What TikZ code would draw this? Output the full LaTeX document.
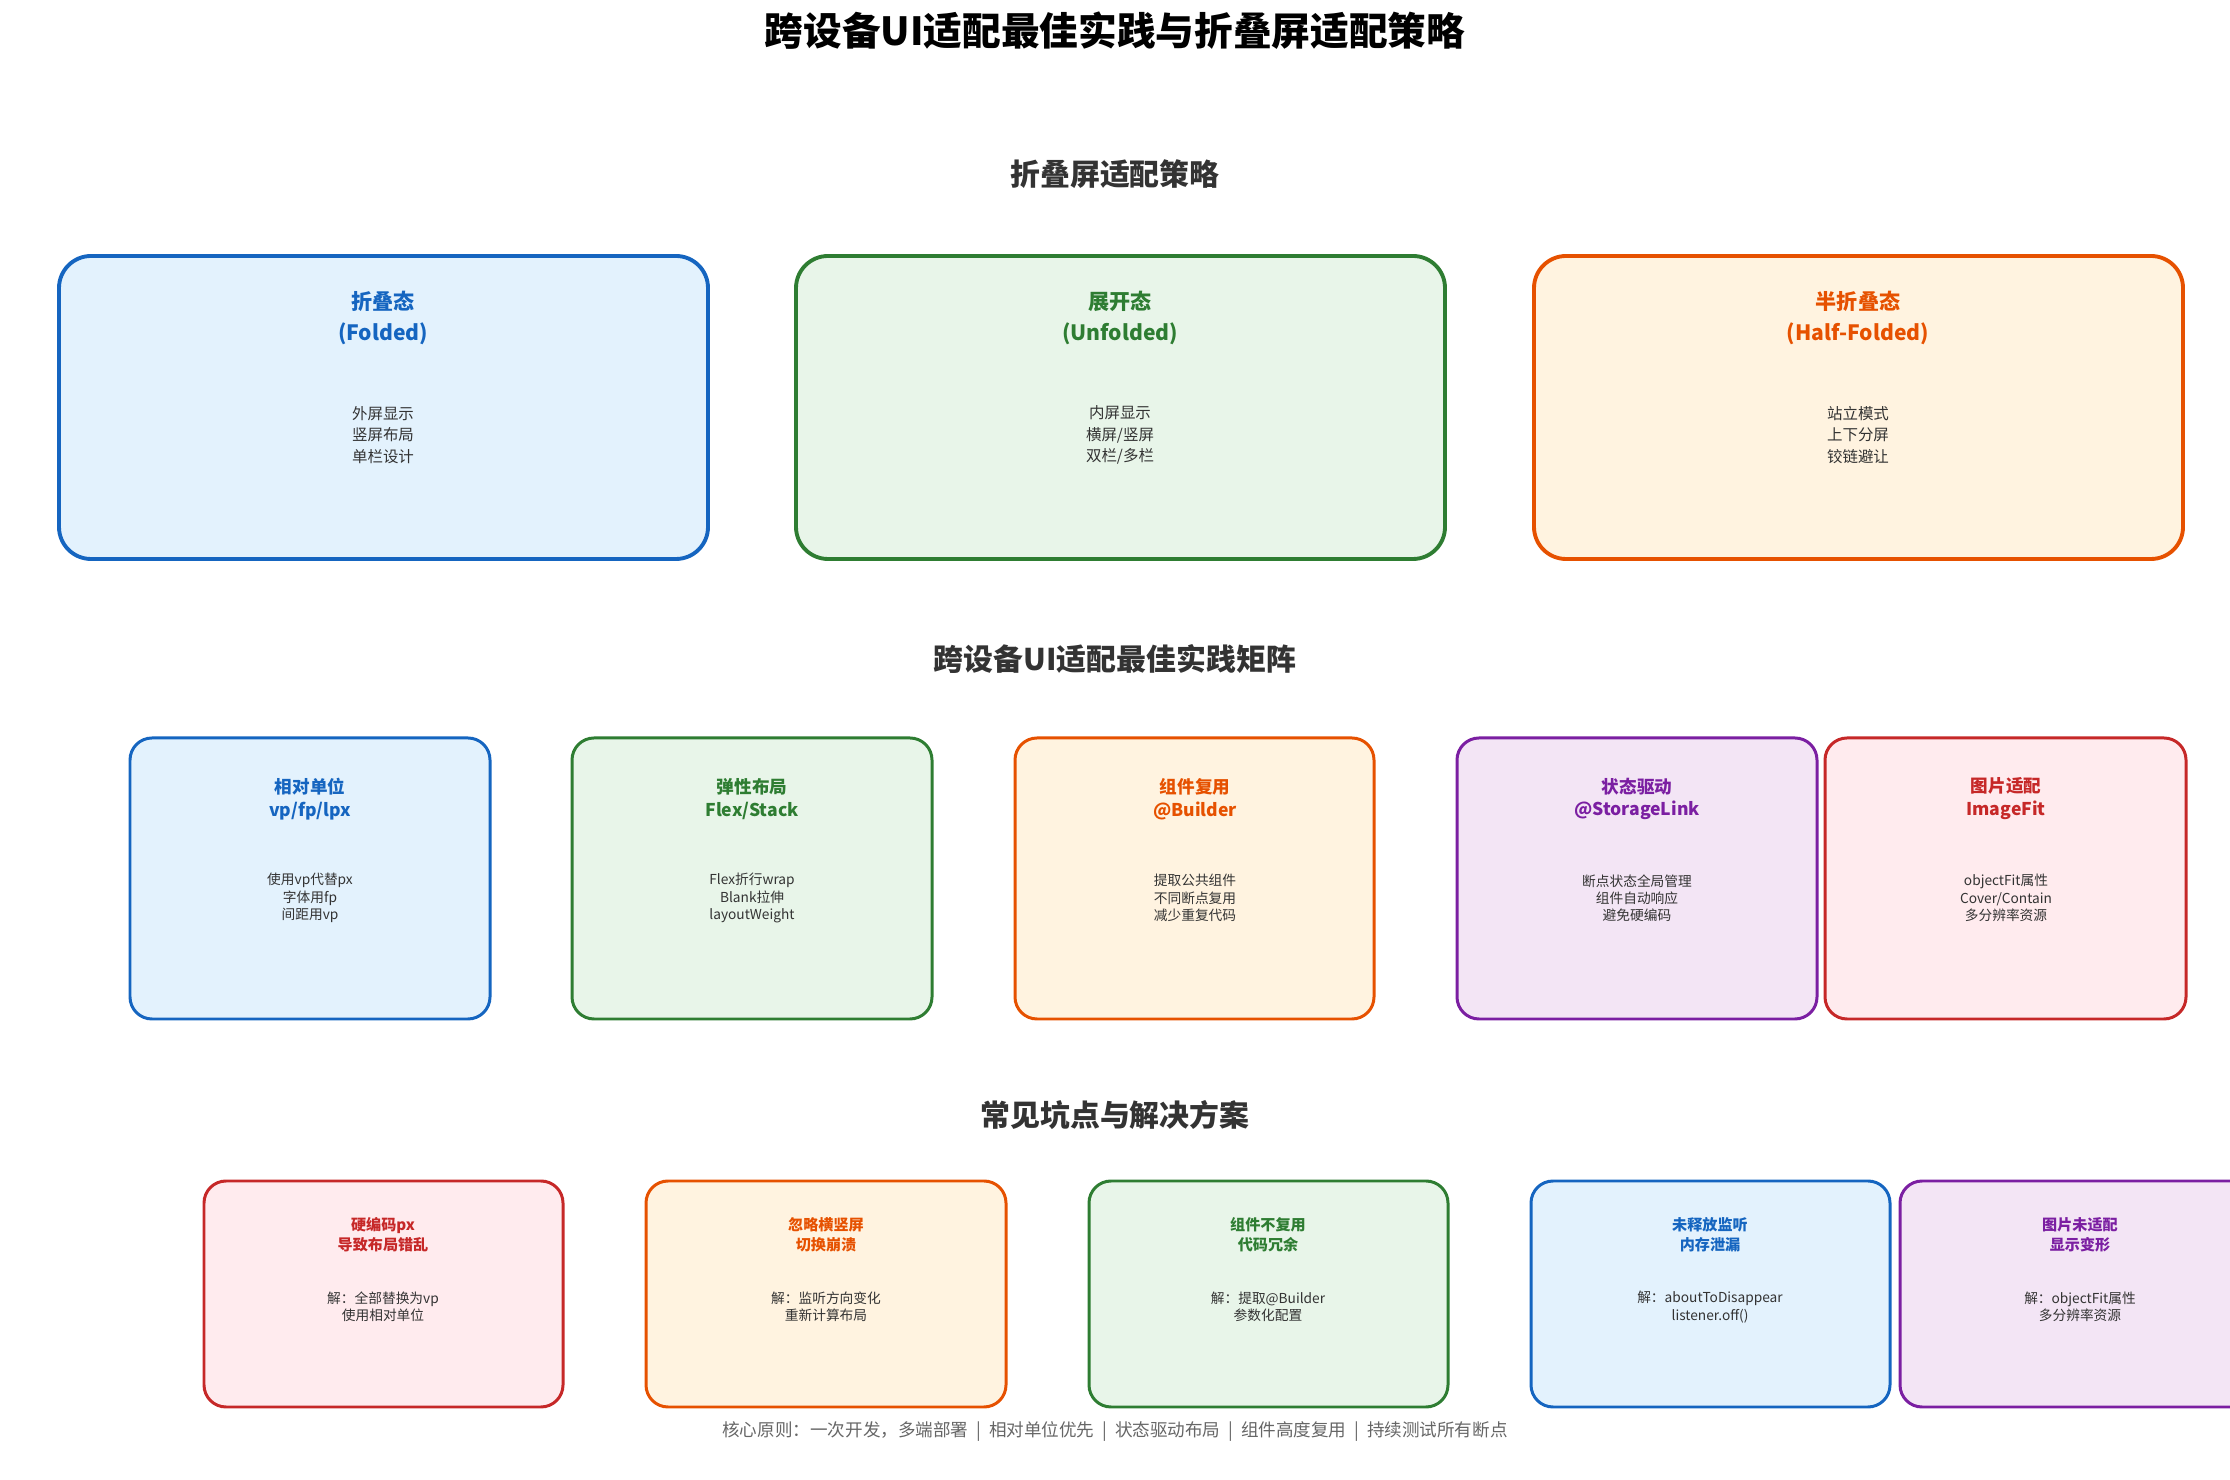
\documentclass[tikz,border=0pt]{standalone}
\usepackage{fontspec}
\setmainfont{Noto Sans CJK SC}
\usetikzlibrary{positioning}
\definecolor{cblue}{HTML}{1565C0}\definecolor{fblue}{HTML}{E3F2FD}
\definecolor{cgreen}{HTML}{2E7D32}\definecolor{fgreen}{HTML}{E8F5E9}
\definecolor{corange}{HTML}{E65100}\definecolor{forange}{HTML}{FFF3E0}
\definecolor{cpurple}{HTML}{7B1FA2}\definecolor{fpurple}{HTML}{F3E5F5}
\definecolor{cred}{HTML}{C62828}\definecolor{fred}{HTML}{FFEBEE}
\definecolor{txt}{HTML}{333333}
\tikzset{
    card/.style={draw=c#1, fill=f#1, rounded corners=3.2mm, line width=1.1pt},
    small card/.style={card=#1, rounded corners=2.2mm, line width=0.85pt},
    ttl/.style={text=c#1, font=\bfseries, align=center, inner sep=0pt},
    body/.style={text=txt, align=center, inner sep=0pt},
    head/.style={text=txt, font=\bfseries\fontsize{8.5}{10}\selectfont}
}
\begin{document}
\begin{tikzpicture}[x=0.01cm, y=-0.01cm]
\clip (0,0) rectangle (2230,1480);
\useasboundingbox (0,0) rectangle (2230,1480);

% Titles
\node[font=\bfseries\fontsize{11}{13}\selectfont] (T) at (1115,31) {跨设备UI适配最佳实践与折叠屏适配策略};
\node[head] (H1) at (1115,174) {折叠屏适配策略};
\node[head] (H2) at (1115,659) {跨设备UI适配最佳实践矩阵};
\node[head] (H3) at (1115,1115) {常见坑点与解决方案};

% Fold states
\draw[card=blue] (59,256) rectangle (708,559);
\draw[card=green] (796,256) rectangle (1445,559);
\draw[card=orange] (1534,256) rectangle (2183,559);
\node[ttl=blue, font=\bfseries\fontsize{6}{9}\selectfont] (F1) at (383,318) {折叠态\\(Folded)};
\node[ttl=green, font=\bfseries\fontsize{6}{9}\selectfont] (F2) at (1120,318) {展开态\\(Unfolded)};
\node[ttl=orange, font=\bfseries\fontsize{6}{9}\selectfont] (F3) at (1858,318) {半折叠态\\(Half-Folded)};
\node[body, font=\fontsize{4.4}{6.1}\selectfont] (FB1) at (383,435) {外屏显示\\竖屏布局\\单栏设计};
\node[body, font=\fontsize{4.4}{6.1}\selectfont] (FB2) at (1120,435) {内屏显示\\横屏/竖屏\\双栏/多栏};
\node[body, font=\fontsize{4.4}{6.1}\selectfont] (FB3) at (1858,435) {站立模式\\上下分屏\\铰链避让};

% Practice matrix
\draw[small card=blue] (130,738) rectangle (490,1019);
\draw[small card=green] (572,738) rectangle (932,1019);
\draw[small card=orange] (1015,738) rectangle (1374,1019);
\draw[small card=purple] (1457,738) rectangle (1817,1019);
\draw[small card=red] (1825,738) rectangle (2186,1019);
\node[ttl=blue, font=\bfseries\fontsize{5}{6.5}\selectfont] (P1) at (310,799) {相对单位\\vp/fp/lpx};
\node[ttl=green, font=\bfseries\fontsize{5}{6.5}\selectfont] (P2) at (752,799) {弹性布局\\Flex/Stack};
\node[ttl=orange, font=\bfseries\fontsize{5}{6.5}\selectfont] (P3) at (1195,799) {组件复用\\@Builder};
\node[ttl=purple, font=\bfseries\fontsize{5}{6.5}\selectfont] (P4) at (1637,799) {状态驱动\\@StorageLink};
\node[ttl=red, font=\bfseries\fontsize{5}{6.5}\selectfont] (P5) at (2006,799) {图片适配\\ImageFit};
\node[body, font=\fontsize{3.9}{4.9}\selectfont] (PB1) at (310,898) {使用vp代替px\\字体用fp\\间距用vp};
\node[body, font=\fontsize{3.9}{4.9}\selectfont] (PB2) at (752,898) {Flex折行wrap\\Blank拉伸\\layoutWeight};
\node[body, font=\fontsize{3.9}{4.9}\selectfont] (PB3) at (1195,898) {提取公共组件\\不同断点复用\\减少重复代码};
\node[body, font=\fontsize{3.9}{4.9}\selectfont] (PB4) at (1637,898) {断点状态全局管理\\组件自动响应\\避免硬编码};
\node[body, font=\fontsize{3.9}{4.9}\selectfont] (PB5) at (2006,898) {objectFit属性\\Cover/Contain\\多分辨率资源};

% Pitfalls
\draw[small card=red] (204,1181) rectangle (563,1407);
\draw[small card=orange] (646,1181) rectangle (1006,1407);
\draw[small card=green] (1089,1181) rectangle (1448,1407);
\draw[small card=blue] (1531,1181) rectangle (1890,1407);
\draw[small card=purple] (1900,1181) rectangle (2260,1407);
\node[ttl=red, font=\bfseries\fontsize{4.3}{5.8}\selectfont] (Q1) at (383,1235) {硬编码px\\导致布局错乱};
\node[ttl=orange, font=\bfseries\fontsize{4.3}{5.8}\selectfont] (Q2) at (826,1235) {忽略横竖屏\\切换崩溃};
\node[ttl=green, font=\bfseries\fontsize{4.3}{5.8}\selectfont] (Q3) at (1268,1235) {组件不复用\\代码冗余};
\node[ttl=blue, font=\bfseries\fontsize{4.3}{5.8}\selectfont] (Q4) at (1710,1235) {未释放监听\\内存泄漏};
\node[ttl=purple, font=\bfseries\fontsize{4.3}{5.8}\selectfont] (Q5) at (2080,1235) {图片未适配\\显示变形};
\node[body, font=\fontsize{3.9}{4.9}\selectfont] (QB1) at (383,1307) {解：全部替换为vp\\使用相对单位};
\node[body, font=\fontsize{3.9}{4.9}\selectfont] (QB2) at (826,1307) {解：监听方向变化\\重新计算布局};
\node[body, font=\fontsize{3.9}{4.9}\selectfont] (QB3) at (1268,1307) {解：提取@Builder\\参数化配置};
\node[body, font=\fontsize{3.9}{4.9}\selectfont] (QB4) at (1710,1307) {解：aboutToDisappear\\listener.off()};
\node[body, font=\fontsize{3.9}{4.9}\selectfont] (QB5) at (2080,1307) {解：objectFit属性\\多分辨率资源};

% Footer
\node[text=black!60, font=\fontsize{5}{6}\selectfont] (FT) at (1115,1432) {核心原则：一次开发，多端部署 \ | \ 相对单位优先 \ | \ 状态驱动布局 \ | \ 组件高度复用 \ | \ 持续测试所有断点};
\end{tikzpicture}
\end{document}
